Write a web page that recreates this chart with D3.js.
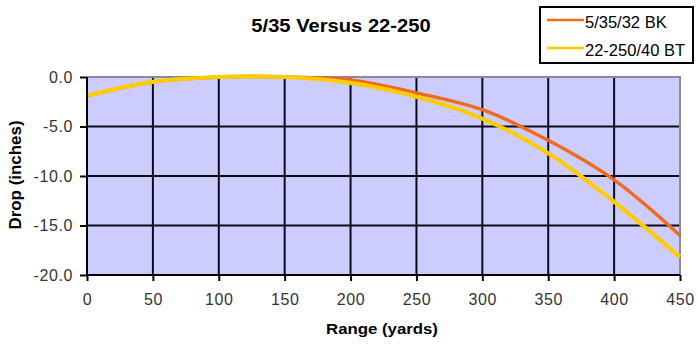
<!DOCTYPE html>
<html>
<head>
<meta charset="utf-8">
<script src="https://cdn.jsdelivr.net/npm/d3@7"></script>
<style>
  html, body { margin: 0; padding: 0; background: #fff; }
  svg { display: block; }
  text { font-family: "Liberation Sans", Arial, sans-serif; }
</style>
</head>
<body>
<svg id="chart" width="699" height="354"></svg>
<script>
// ---- data ----
const ranges = [0, 50, 100, 150, 200, 250, 300, 350, 400, 450];
const bk32 = [-1.9, -0.5, 0.0, 0.0, -0.3, -1.6, -3.3, -6.4, -10.4, -16.0];
const bt40 = [-1.9, -0.5, 0.0, 0.0, -0.6, -2.0, -4.2, -7.7, -12.6, -18.2];
const seriesNames = ["5/35/32 BK", "22-250/40 BT"];
const seriesColors = ["#F26A1B", "#FFCC00"];
const xTicks = [0, 50, 100, 150, 200, 250, 300, 350, 400, 450];
const yTicks = [0, -5, -10, -15, -20];
const titleText = "5/35 Versus 22-250";
const xLabel = "Range (yards)";
const yLabel = "Drop (inches)";

// ---- layout ----
const W = 699, H = 354;
const m = { left: 87, right: 19, top: 77, bottom: 79 };
const svg = d3.select("#chart");
const x = d3.scaleLinear().domain([0, 450]).range([m.left, W - m.right]);
const y = d3.scaleLinear().domain([-20, 0]).range([H - m.bottom, m.top]);

// plot background
svg.append("rect")
  .attr("x", x(0)).attr("y", y(0))
  .attr("width", x(450) - x(0)).attr("height", y(-20) - y(0))
  .attr("fill", "#CCCCFF");

// gridlines
svg.append("g").selectAll("line").data(yTicks.filter(d => d !== 0 && d !== -20)).join("line")
  .attr("x1", x(0)).attr("x2", x(450))
  .attr("y1", d => y(d)).attr("y2", d => y(d))
  .attr("stroke", "#0a0a1a").attr("stroke-width", 2);
svg.append("g").selectAll("line").data(xTicks.filter(d => d !== 0 && d !== 450)).join("line")
  .attr("y1", y(0)).attr("y2", y(-20))
  .attr("x1", d => x(d)).attr("x2", d => x(d))
  .attr("stroke", "#0a0a1a").attr("stroke-width", 2);

// plot border top / right (grey)
svg.append("path")
  .attr("d", `M${x(0)},${y(0)}H${x(450)}V${y(-20)}`)
  .attr("fill", "none").attr("stroke", "#8a8a9a").attr("stroke-width", 2);

// series lines
const line = d3.line().curve(d3.curveCatmullRom.alpha(0.5))
  .x((d, i) => x(ranges[i])).y(d => y(d));
const widths = [3.4, 4.2];
[bk32, bt40].forEach((s, i) => {
  svg.append("path").datum(s)
    .attr("d", line)
    .attr("fill", "none")
    .attr("stroke", seriesColors[i])
    .attr("stroke-width", widths[i])
    .attr("stroke-linejoin", "round");
});

// axes
const fmt = d => d.toFixed(1);
const yAxis = svg.append("g")
  .attr("transform", `translate(${x(0)},0)`)
  .call(d3.axisLeft(y).tickValues(yTicks).tickFormat(fmt).tickSize(7).tickPadding(7));
const xAxis = svg.append("g")
  .attr("transform", `translate(0,${y(-20)})`)
  .call(d3.axisBottom(x).tickValues(xTicks).tickSize(6).tickPadding(13));
[yAxis, xAxis].forEach(g => {
  g.select(".domain").attr("stroke", "#000").attr("stroke-width", 2);
  g.selectAll(".tick line").attr("stroke", "#000").attr("stroke-width", 2);
  g.selectAll(".tick text")
    .attr("font-size", 16)
    .attr("fill", "#333")
    .attr("letter-spacing", "0.6px")
    .style("font-family", '"Liberation Sans", Arial, sans-serif');
});
yAxis.select(".domain").attr("d", `M0,${y(0)}V${y(-20)}`);
xAxis.select(".domain").attr("d", `M${x(0)},0H${x(450)}`);

// title
svg.append("g").attr("transform", "translate(341,32) scale(1.12,1)")
  .append("text").attr("text-anchor", "middle")
  .attr("font-size", 18).attr("font-weight", "bold").attr("fill", "#000")
  .text(titleText);

// axis labels
svg.append("g").attr("transform", "translate(382,334) scale(1.12,1)")
  .append("text").attr("text-anchor", "middle")
  .attr("font-size", 15).attr("font-weight", "bold").attr("fill", "#000")
  .text(xLabel);
svg.append("g").attr("transform", "translate(21,175) rotate(-90) scale(1.06,1)")
  .append("text").attr("text-anchor", "middle")
  .attr("font-size", 16).attr("font-weight", "bold").attr("fill", "#000")
  .text(yLabel);

// legend
const lg = svg.append("g");
lg.append("rect").attr("x", 540).attr("y", 7).attr("width", 153).attr("height", 56)
  .attr("fill", "#fff").attr("stroke", "#000").attr("stroke-width", 2);
seriesNames.forEach((name, i) => {
  const ly = 20 + i * 28;
  lg.append("line").attr("x1", 547).attr("x2", 584).attr("y1", ly).attr("y2", ly)
    .attr("stroke", seriesColors[i]).attr("stroke-width", 2.5);
  lg.append("text").attr("x", 585).attr("y", ly + 8)
    .attr("font-size", 16.5).attr("fill", "#000")
    .text(name);
});
</script>
</body>
</html>
